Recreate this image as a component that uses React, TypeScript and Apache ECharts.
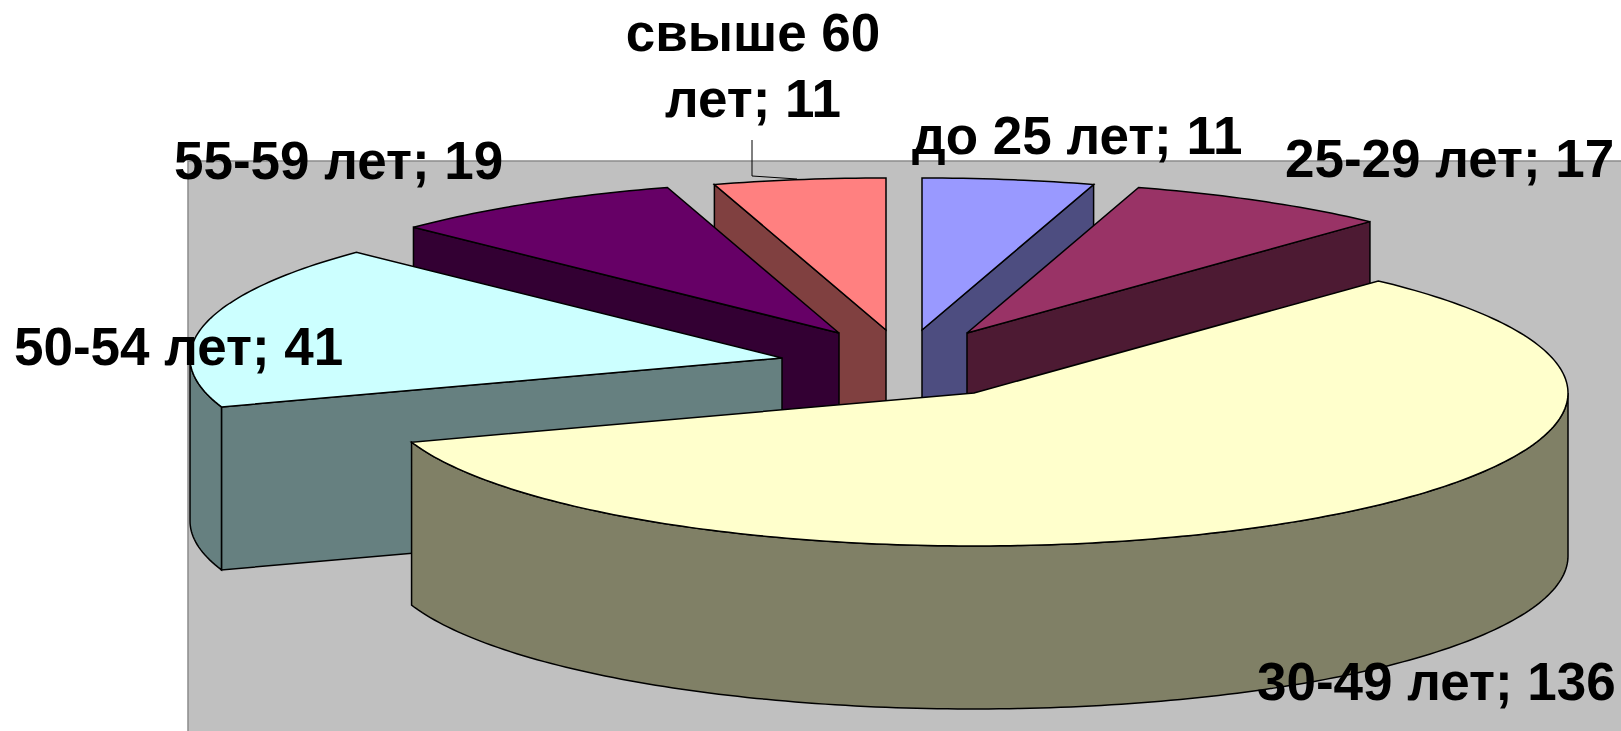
import React, { useEffect, useRef } from "react";
import * as echarts from "echarts";

const categories = ["до 25 лет", "25-29 лет", "30-49 лет", "50-54 лет", "55-59 лет", "свыше 60 лет"];
const values = [11, 17, 136, 41, 19, 11];
const topColors = ["#9999FF", "#993366", "#FFFFCC", "#CCFFFF", "#660066", "#FF8080"];
const sideColors = ["#4D4D80", "#4D1A33", "#808066", "#668080", "#330033", "#804040"];

// Exploded position of each slice's apex, and the pie's projected radii
const apexX = [922, 967, 974, 782, 839, 886];
const apexY = [330, 333, 393, 358, 333, 330];
const radiusX = [592, 592, 594, 592, 592, 592];
const radiusY = [152, 152, 153, 152, 152, 152];
const depth = 163;
const paintOrder = [5, 0, 1, 4, 3, 2];

const labelFont = "Liberation Sans";
const labelSize = 53;
// x, y (middle of the line), align
const labelPlaces: [number, number, string][] = [
  [912, 135, "left"],
  [1285, 158, "left"],
  [1257, 681, "left"],
  [14, 346, "left"],
  [174, 160, "left"],
];

const total = values.reduce((a, b) => a + b, 0);
const startAngles: number[] = [];
values.reduce((acc, v, i) => {
  startAngles[i] = (acc / total) * 360;
  return acc + v;
}, 0);

function renderSlice(_params: any, api: any) {
  const i = api.value(0) as number;
  const a0 = startAngles[i];
  const a1 = a0 + (values[i] / total) * 360;
  const cx = apexX[i];
  const cy = apexY[i];
  const rx = radiusX[i];
  const ry = radiusY[i];
  const pt = (deg: number, dy = 0): number[] => {
    const t = (deg * Math.PI) / 180;
    return [cx + rx * Math.sin(t), cy - ry * Math.cos(t) + dy];
  };
  const arc = (from: number, to: number, dy = 0): number[][] => {
    const out: number[][] = [];
    const n = Math.max(2, Math.ceil(Math.abs(to - from)));
    for (let k = 0; k <= n; k++) out.push(pt(from + ((to - from) * k) / n, dy));
    return out;
  };
  const side = { fill: sideColors[i], stroke: "#000", lineWidth: 1.5 };
  const children: any[] = [];
  const wall = (deg: number) => {
    const p = pt(deg);
    const q = pt(deg, depth);
    children.push({
      type: "polygon",
      shape: { points: [[cx, cy], p, q, [cx, cy + depth]] },
      style: side,
    });
  };
  const s0 = Math.sin((a0 * Math.PI) / 180);
  const s1 = Math.sin((a1 * Math.PI) / 180);
  if (s0 < -1e-6) wall(a0);
  if (s1 > 1e-6) wall(a1);
  const f0 = Math.max(a0, 90);
  const f1 = Math.min(a1, 270);
  if (f1 > f0) {
    children.push({
      type: "polygon",
      shape: { points: [...arc(f0, f1), ...arc(f1, f0, depth)] },
      style: side,
    });
  }
  children.push({
    type: "polygon",
    shape: { points: [[cx, cy], ...arc(a0, a1)] },
    style: { fill: topColors[i], stroke: "#000", lineWidth: 1.5 },
  });
  return { type: "group", children };
}

function labelText(i: number): string {
  return `${categories[i]}; ${values[i]}`;
}

export default function App() {
  const ref = useRef<HTMLDivElement>(null);
  useEffect(() => {
    document.body.style.margin = "0";
    document.body.style.overflow = "hidden";
    const chart = echarts.init(ref.current!, undefined, { renderer: "svg" });
    const textStyle = (x: number, y: number, align: string, text: string) => ({
      type: "text",
      x,
      y,
      z: 100,
      style: {
        text,
        fill: "#000",
        font: `bold ${labelSize}px "${labelFont}"`,
        align,
        verticalAlign: "middle",
      },
    });
    const words = labelText(5).split(" ");
    chart.setOption({
      animation: false,
      backgroundColor: "#fff",
      graphic: [
        {
          type: "rect",
          z: -10,
          shape: { x: 188, y: 161, width: 1445, height: 590 },
          style: { fill: "#C0C0C0", stroke: "#8c8c8c", lineWidth: 1.5 },
        },
        ...[0, 1, 2, 3, 4].map((i) =>
          textStyle(labelPlaces[i][0], labelPlaces[i][1], labelPlaces[i][2], labelText(i))
        ),
        textStyle(753, 32, "center", words.slice(0, 2).join(" ")),
        textStyle(753, 98, "center", words.slice(2).join(" ")),
        {
          type: "polyline",
          z: 50,
          shape: { points: [[752, 140], [752, 176], [797, 179]] },
          style: { stroke: "#000", lineWidth: 1, fill: "none" },
        },
      ],
      series: [
        {
          type: "custom",
          coordinateSystem: "none",
          clip: false,
          silent: true,
          renderItem: renderSlice,
          data: paintOrder.map((i) => [i, values[i]]),
        },
      ],
    });
    return () => chart.dispose();
  }, []);
  return <div ref={ref} style={{ width: 1621, height: 731 }} />;
}
